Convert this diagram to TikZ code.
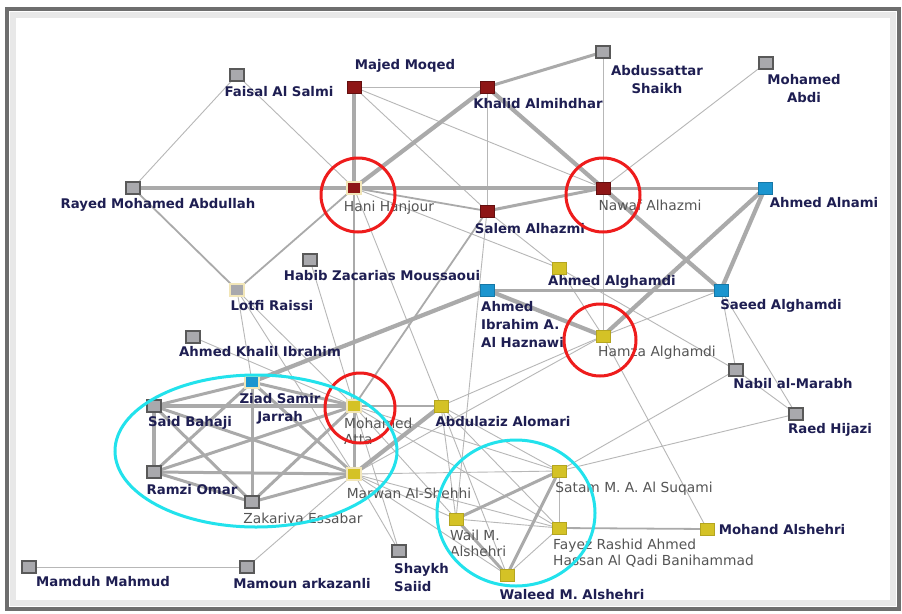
\documentclass[tikz,border=0pt]{standalone}
\usepackage{fontspec}
\setmainfont{DejaVu Sans}
\definecolor{edgec}{HTML}{AAAAAA}
\definecolor{nred}{HTML}{8E1616}
\definecolor{nblue}{HTML}{1B95CF}
\definecolor{nyel}{HTML}{D4C226}
\definecolor{ngray}{HTML}{A9A9AD}
\definecolor{pale}{HTML}{F2E6B8}
\definecolor{labc}{HTML}{1E1E52}
\definecolor{labg}{HTML}{555555}
\definecolor{ringred}{HTML}{EE1C1C}
\definecolor{ringcyan}{HTML}{22E2EC}
\definecolor{framec}{HTML}{6E6E6E}
\begin{document}
\begin{tikzpicture}[x=1pt,y=-1pt,
  nd/.style={rectangle,minimum width=14pt,minimum height=12pt,inner sep=0pt,line width=0.8pt},
  nr/.style={nd,fill=nred,draw=nred!70!black},
  nrp/.style={nd,fill=nred,draw=pale,line width=2pt},
  nb/.style={nd,fill=nblue,draw=nblue!80!black},
  nbp/.style={nd,fill=nblue,draw=pale,line width=2pt},
  ny/.style={nd,fill=nyel,draw=nyel!85!black},
  nyp/.style={nd,fill=nyel,draw=pale,line width=2pt},
  ng/.style={nd,fill=ngray,draw=black!65,line width=1.2pt},
  ngp/.style={nd,fill=ngray,draw=pale,line width=2pt},
  lab/.style={font=\bfseries\fontsize{13.3}{18}\selectfont,text=labc,inner sep=0pt},
  labd/.style={font=\fontsize{13.8}{16}\selectfont,text=labg,inner sep=0pt},
  e1/.style={draw=edgec!85,line width=0.9pt},
  e2/.style={draw=edgec,line width=1.8pt},
  e3/.style={draw=edgec,line width=3pt},
  e4/.style={draw=edgec,line width=4.2pt},
  ring/.style={draw=ringred,line width=3pt},
  oval/.style={draw=ringcyan,line width=3pt}]
\useasboundingbox (0,0) rectangle (902,613);
\fill[white] (0,0) rectangle (902,613);
\draw[line width=6pt,black!9] (13,15) rectangle (893,603);
\draw[line width=4pt,framec] (7,9) rectangle (899,609);

% node positions
\coordinate (majed) at (354,87);
\coordinate (khalid) at (487,87);
\coordinate (abduss) at (603,52);
\coordinate (abdi) at (766,63);
\coordinate (faisal) at (237,75);
\coordinate (rayed) at (133,188);
\coordinate (hani) at (354,188);
\coordinate (nawaf) at (603,188);
\coordinate (salem) at (487,211);
\coordinate (alnami) at (765,188);
\coordinate (habib) at (310,260);
\coordinate (aalgh) at (559,268);
\coordinate (haznawi) at (487,290);
\coordinate (saeed) at (721,290);
\coordinate (lotfi) at (237,290);
\coordinate (hamza) at (603,336);
\coordinate (akhalil) at (193,337);
\coordinate (nabil) at (736,370);
\coordinate (ziad) at (252,382);
\coordinate (bahaji) at (154,406);
\coordinate (atta) at (354,406);
\coordinate (alomari) at (441,406);
\coordinate (hijazi) at (796,414);
\coordinate (ramzi) at (154,472);
\coordinate (marwan) at (354,474);
\coordinate (satam) at (559,471);
\coordinate (essabar) at (252,502);
\coordinate (wail) at (456,519);
\coordinate (fayez) at (559,528);
\coordinate (mohand) at (707,529);
\coordinate (shaykh) at (399,551);
\coordinate (mamduh) at (29,567);
\coordinate (mamoun) at (247,567);
\coordinate (waleed) at (507,575);

% edges
\foreach \a/\b in {faisal/rayed,faisal/hani,majed/khalid,majed/nawaf,majed/salem,khalid/salem,
  abduss/nawaf,abdi/nawaf,hani/aalgh,nawaf/hamza,aalgh/hamza,aalgh/nabil,salem/aalgh,
  saeed/hamza,saeed/nabil,saeed/hijazi,nabil/hijazi,hamza/mohand,nabil/satam,hijazi/satam,
  alomari/hamza,hamza/marwan,lotfi/ziad,lotfi/atta,lotfi/marwan,habib/atta,akhalil/atta,
  hani/alomari,salem/wail,atta/satam,atta/wail,atta/fayez,marwan/satam,marwan/wail,
  marwan/fayez,marwan/waleed,marwan/shaykh,atta/shaykh,marwan/mamoun,mamduh/mamoun,
  alomari/satam,alomari/wail,alomari/fayez,alomari/waleed,satam/fayez,wail/fayez,fayez/waleed}
  {\draw[e1] (\a) -- (\b);}
\foreach \a/\b in {rayed/lotfi,hani/lotfi,hani/salem,salem/atta,atta/alomari,fayez/mohand,hani/atta}
  {\draw[e2] (\a) -- (\b);}
\foreach \a/\b in {khalid/abduss,nawaf/alnami,salem/nawaf,haznawi/saeed,ziad/atta,satam/wail,
  satam/waleed,wail/waleed,ziad/bahaji,ziad/ramzi,ziad/essabar,ziad/marwan,bahaji/essabar,
  bahaji/marwan,ramzi/atta,ramzi/marwan,ramzi/essabar,essabar/atta,essabar/marwan,atta/marwan}
  {\draw[e3] (\a) -- (\b);}
\foreach \a/\b in {rayed/hani,hani/nawaf,majed/hani,khalid/hani,khalid/nawaf,nawaf/saeed,
  alnami/saeed,alnami/hamza,haznawi/hamza,haznawi/ziad,bahaji/atta,bahaji/ramzi,marwan/alomari}
  {\draw[e4] (\a) -- (\b);}

% nodes
\foreach \n/\s in {majed/nr,khalid/nr,abduss/ng,abdi/ng,faisal/ng,rayed/ng,hani/nrp,nawaf/nr,
  salem/nr,alnami/nb,habib/ng,aalgh/ny,haznawi/nb,saeed/nb,lotfi/ngp,hamza/ny,akhalil/ng,
  nabil/ng,ziad/nbp,bahaji/ng,atta/nyp,alomari/ny,hijazi/ng,ramzi/ng,marwan/nyp,satam/ny,
  essabar/ng,wail/ny,fayez/ny,mohand/ny,shaykh/ng,mamduh/ng,mamoun/ng,waleed/ny}
  {\node[\s] (n-\n) at (\n) {};}

% labels
\node[lab] (l-majed) at (405,66) {Majed Moqed};
\node[lab] (l-khalid) at (538,104) {Khalid Almihdhar};
\node[lab,align=center] (l-abduss) at (657,80) {Abdussattar\\Shaikh};
\node[lab,align=center] (l-abdi) at (804,89) {Mohamed\\Abdi};
\node[lab] (l-faisal) at (279,92) {Faisal Al Salmi};
\node[lab] (l-rayed) at (158,205) {Rayed Mohamed Abdullah};
\node[labd] (l-hani) at (389,208) {Hani Hanjour};
\node[labd] (l-nawaf) at (650,205) {Nawaf Alhazmi};
\node[lab] (l-salem) at (530,229) {Salem Alhazmi};
\node[lab] (l-alnami) at (824,203) {Ahmed Alnami};
\node[lab] (l-habib) at (382,276) {Habib Zacarias Moussaoui};
\node[lab] (l-aalgh) at (612,282) {Ahmed Alghamdi};
\node[lab,align=left,anchor=west] (l-haznawi) at (481,325) {Ahmed\\Ibrahim A.\\Al Haznawi};
\node[lab] (l-saeed) at (781,306) {Saeed Alghamdi};
\node[lab] (l-lotfi) at (272,306) {Lotfi Raissi};
\node[labd] (l-hamza) at (657,353) {Hamza Alghamdi};
\node[lab] (l-akhalil) at (260,352) {Ahmed Khalil Ibrahim};
\node[lab] (l-nabil) at (793,384) {Nabil al-Marabh};
\node[lab,align=center] (l-ziad) at (280,409) {Ziad Samir\\Jarrah};
\node[lab] (l-bahaji) at (190,423) {Said Bahaji};
\node[labd,align=left,anchor=west] (l-atta) at (344,431) {Mohamed\\Atta};
\node[lab] (l-alomari) at (503,422) {Abdulaziz Alomari};
\node[lab] (l-hijazi) at (830,430) {Raed Hijazi};
\node[lab] (l-ramzi) at (192,490) {Ramzi Omar};
\node[labd] (l-marwan) at (409,493) {Marwan Al-Shehhi};
\node[labd] (l-satam) at (634,489) {Satam M. A. Al Suqami};
\node[labd] (l-essabar) at (303,520) {Zakariya Essabar};
\node[labd,align=left,anchor=west] (l-wail) at (450,543) {Wail M.\\Alshehri};
\node[labd,align=left,anchor=west] (l-fayez) at (553,553) {Fayez Rashid Ahmed\\Hassan Al Qadi Banihammad};
\node[lab] (l-mohand) at (782,530) {Mohand Alshehri};
\node[lab,align=left,anchor=west] (l-shaykh) at (394,578) {Shaykh\\Saiid};
\node[lab] (l-mamduh) at (103,582) {Mamduh Mahmud};
\node[lab] (l-mamoun) at (302,584) {Mamoun arkazanli};
\node[lab] (l-waleed) at (572,595) {Waleed M. Alshehri};

% highlight rings
\draw[ring] (358,195) circle[radius=37pt];
\draw[ring] (603,195) circle[radius=37pt];
\draw[ring] (600,340) circle[radius=36pt];
\draw[ring] (360,408) circle[radius=35pt];
\draw[oval] (256,451) ellipse[x radius=141pt,y radius=76pt];
\draw[oval] (516,513) ellipse[x radius=79pt,y radius=73pt];
\end{tikzpicture}
\end{document}
